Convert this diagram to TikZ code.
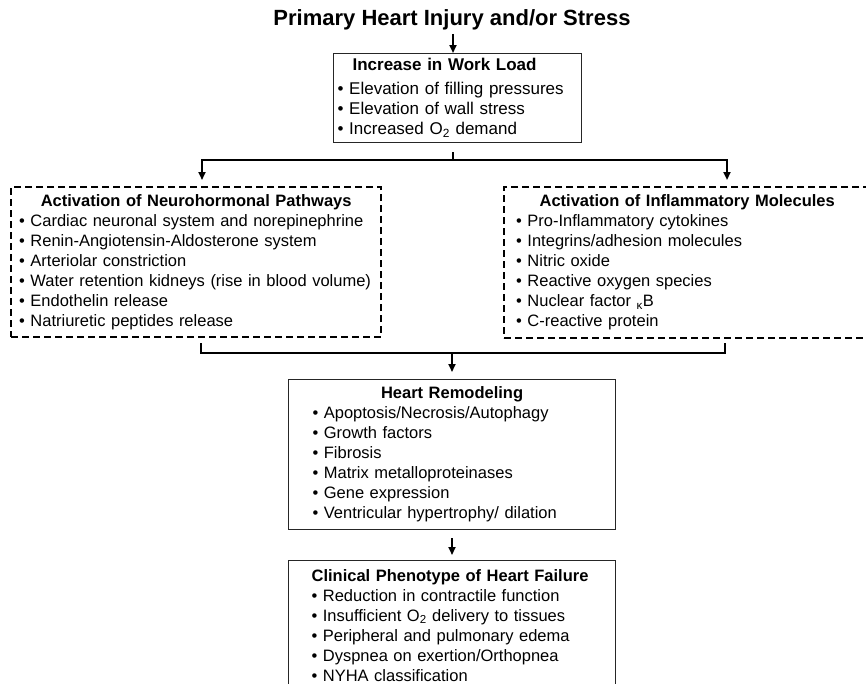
\documentclass[tikz,border=0pt]{standalone}
\usepackage{fontspec}
\setmainfont{Liberation Sans}
\usetikzlibrary{arrows.meta}

\begin{document}
\begin{tikzpicture}[x=1pt,y=-1pt,
	txt/.style={font=\fontsize{16.5}{20}\selectfont},
	solidbox/.style={txt,draw=black!85,line width=1.2pt,anchor=north west,align=left,inner ysep=0pt},
	dashbox/.style={txt,draw,line width=2.4pt,dash pattern=on 7pt off 4pt,anchor=north west,align=left,inner ysep=0pt},
	link/.style={line width=1.9pt},
	flow/.style={line width=1.9pt,-{Triangle[length=8pt,width=7pt]}}]
					\useasboundingbox (0,0) rectangle (866,683);
					\node[font=\fontsize{22}{25}\selectfont\bfseries] (injury) at (452,20) {Primary Heart Injury and/or Stress};
					\node[solidbox,font=\fontsize{17}{20}\selectfont,text width=240pt,inner xsep=4pt,minimum height=89pt] (load) at (333,53)
						{\hspace*{15pt}\textbf{Increase in Work Load}\\[4pt]
						• Elevation of filling pressures\\
						• Elevation of wall stress\\
						• Increased O\textsubscript{2} demand};
					\node[dashbox,text width=354pt,inner xsep=8pt,minimum height=150pt] (neuro) at (10,186)
						{\hfil\textbf{Activation of Neurohormonal Pathways}\hfil\\
						• Cardiac neuronal system and norepinephrine\\
						• Renin-Angiotensin-Aldosterone system\\
						• Arteriolar constriction\\
						• Water retention kidneys (rise in blood volume)\\
						• Endothelin release\\
						• Natriuretic peptides release};
					\node[dashbox,text width=342pt,inner xsep=12pt,minimum height=151pt] (inflam) at (503,186)
						{\hfil\textbf{Activation of Inflammatory Molecules}\hfil\\
						• Pro-Inflammatory cytokines\\
						• Integrins/adhesion molecules\\
						• Nitric oxide\\
						• Reactive oxygen species\\
						• Nuclear factor \textsubscript{κ}B\\
						• C-reactive protein};
					\node[solidbox,text width=279pt,inner xsep=24pt,minimum height=150pt] (remod) at (288,379)
						{\hfil\textbf{Heart Remodeling}\hfil\\
						• Apoptosis/Necrosis/Autophagy\\
						• Growth factors\\
						• Fibrosis\\
						• Matrix metalloproteinases\\
						• Gene expression\\
						• Ventricular hypertrophy/ dilation};
					\node[solidbox,text width=281pt,inner xsep=23pt,minimum height=129pt] (clin) at (288,560)
						{\textbf{Clinical Phenotype of Heart Failure}\\
						• Reduction in contractile function\\
						• Insufficient O\textsubscript{2} delivery to tissues\\
						• Peripheral and pulmonary edema\\
						• Dyspnea on exertion/Orthopnea\\
						• NYHA classification};
					\coordinate (split) at (453,160);
					\coordinate (toneuro) at (202,180);
					\coordinate (toinflam) at (727,180);
					\coordinate (outneuro) at (201,343);
					\coordinate (outinflam) at (725,343);
					\coordinate (merge) at (452,353);
					\draw[flow] (injury.south -| split) -- (split |- load.north);
					\draw[link] ([yshift=-9pt]load.south -| split) -- (split);
					\draw[flow] (split) -| (toneuro);
					\draw[flow] (split) -| (toinflam);
					\draw[link] (outneuro) |- (merge) -| (outinflam);
					\draw[flow,shorten >=7pt] (merge) -- (merge |- remod.north);
					\draw[flow,shorten <=8pt,shorten >=5pt] (merge |- remod.south) -- (merge |- clin.north);
				  \end{tikzpicture}
\end{document}
